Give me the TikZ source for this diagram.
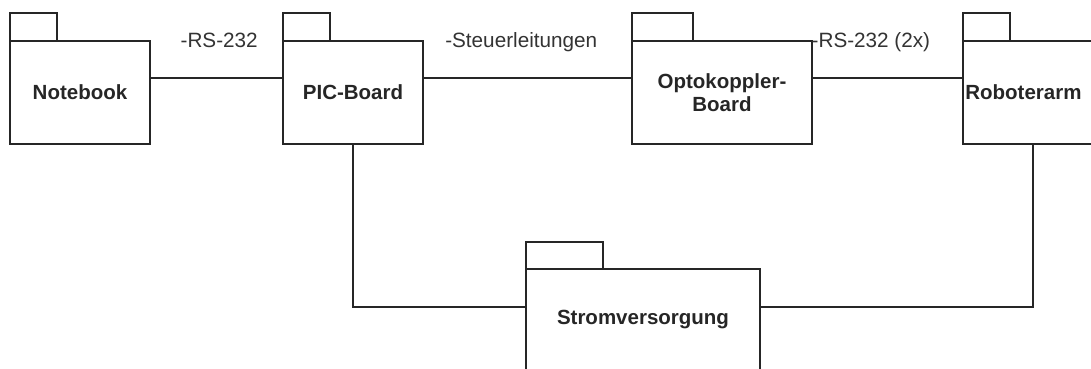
\documentclass[tikz,border=0pt]{standalone}
\usepackage{fontspec}
\setmainfont{Liberation Sans}
\begin{document}
\begin{tikzpicture}[x=1pt,y=-1pt,
  line width=1.6pt, draw=black!85,
  pkg/.style={draw=black!85, rectangle, inner sep=0pt, outer sep=0pt, minimum height=103pt,
    font=\fontsize{20.5}{23}\selectfont\bfseries, text=black!85, align=center},
  tab/.style={draw=black!85, rectangle, inner sep=0pt, outer sep=0pt, anchor=south west, minimum height=28pt},
  lbl/.style={font=\fontsize{20.7}{24}\selectfont, text=black!80, anchor=base, inner sep=0pt, yshift=30pt},
  conn/.style={draw=black!85, line width=1.6pt}]
\useasboundingbox (0,0) rectangle (1091,369);
\begin{scope}
\clip (0,0) rectangle (1091,369);
% packages
\node[pkg, minimum width=140pt] (nb) at (80,92.5) {Notebook};
\node[tab, minimum width=47pt] (nbtab) at (nb.north west) {};
\node[pkg, minimum width=140pt] (pic) at (353,92.5) {PIC-Board};
\node[tab, minimum width=47pt] (pictab) at (pic.north west) {};
\node[pkg, minimum width=180pt] (opto) at (722,92.5) {Optokoppler-\\Board};
\node[tab, minimum width=61pt] (optotab) at (opto.north west) {};
\node[pkg, minimum width=140pt] (robot) at (1033,92.5) {};
\node[tab, minimum width=47pt] (robottab) at (robot.north west) {};
\node[font=\fontsize{20.5}{23}\selectfont\bfseries, text=black!85, anchor=west, inner sep=0pt] (robotlbl) at ([xshift=1.5pt]robot.west) {Roboterarm};
\node[pkg, minimum width=234pt, minimum height=102pt] (strom) at (643,320) {Stromversorgung};
\node[tab, minimum width=77pt, minimum height=27pt] (stromtab) at (strom.north west) {};
% connectors
\draw[conn] ([yshift=14.5pt]nb.east) -- node[lbl, pos=0.52] {-RS-232} ([yshift=14.5pt]pic.west);
\draw[conn] ([yshift=14.5pt]pic.east) -- node[lbl, pos=0.47] {-Steuerleitungen} ([yshift=14.5pt]opto.west);
\draw[conn] ([yshift=14.5pt]opto.east) -- node[lbl, pos=0.39] {-RS-232 (2x)} ([yshift=14.5pt]robot.west);
\draw[conn] (pic.south) |- ([yshift=13pt]strom.west);
\draw[conn] ([yshift=13pt]strom.east) -| (robot.south);
\end{scope}
\end{tikzpicture}
\end{document}
